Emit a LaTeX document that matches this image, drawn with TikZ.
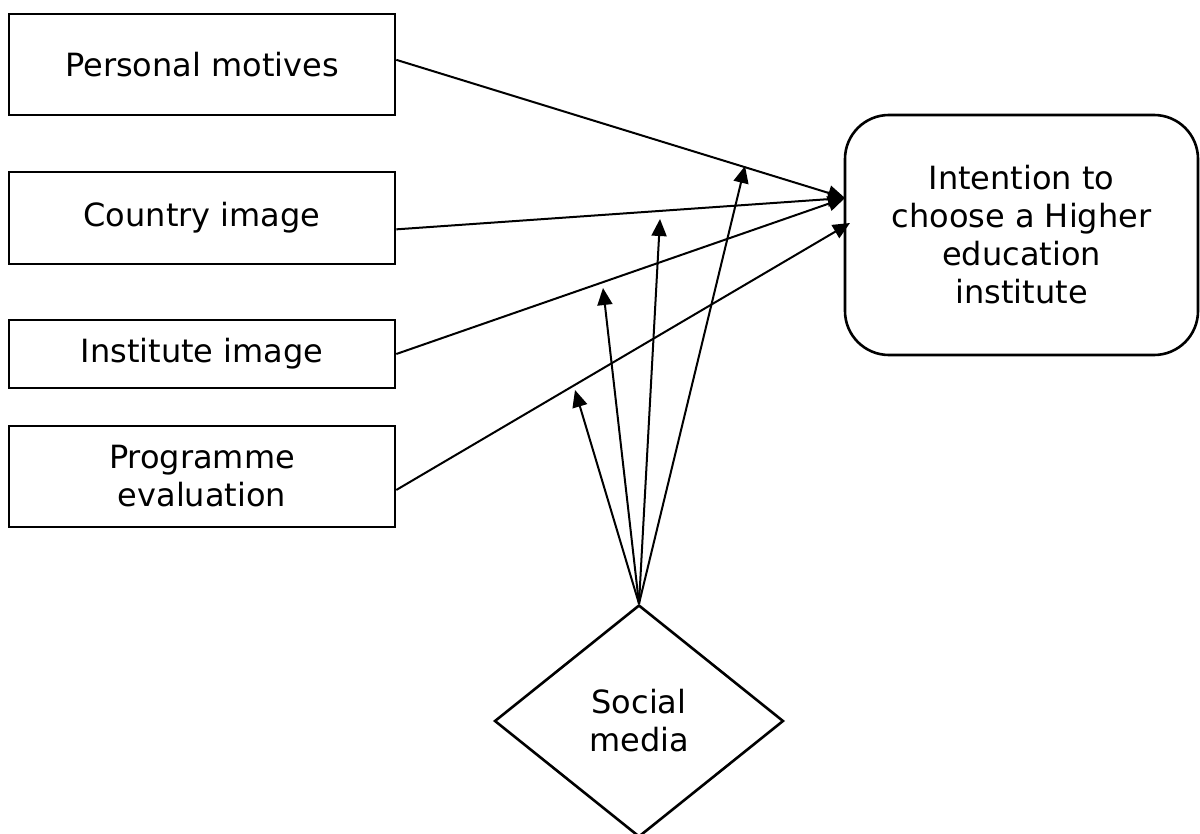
\documentclass[tikz,border=0pt]{standalone}
\usepackage{fontspec}
\setmainfont{DejaVu Sans}
\usetikzlibrary{shapes.geometric,arrows.meta,calc}
\begin{document}
\begin{tikzpicture}[x=0.5pt,y=-0.5pt,
  box/.style={draw,line width=1.3pt,minimum width=193pt,inner sep=0pt,align=center,font=\fontsize{16}{19}\selectfont},
  goal/.style={draw,line width=1.3pt,rounded corners=22pt,minimum width=176.5pt,minimum height=120pt,inner sep=0pt,align=center,font=\fontsize{16}{19}\selectfont},
  dia/.style={draw,diamond,line width=1.3pt,minimum width=144.5pt,minimum height=116pt,shape aspect=1.25,inner sep=0pt,align=center,font=\fontsize{16}{19}\selectfont},
  conn/.style={line width=1pt,-{Triangle[length=8.5pt,width=7.5pt]}}]
\useasboundingbox (0,0) rectangle (1200,834);
\node[box,minimum height=50.5pt] (pm) at (202,64.5) {Personal motives};
\node[box,minimum height=46pt] (ci) at (202,218) {Country image};
\node[box,minimum height=34pt] (ii) at (202,354) {Institute image};
\node[box,minimum height=50.5pt] (pe) at (202,476.5) {Programme\\evaluation};
\node[goal] (hi) at (1021.5,235) {Intention to\\choose a Higher\\education\\institute};
\node[dia] (sm) at (639,721) {Social\\media};
\coordinate (t1) at (845,198);
\coordinate (t2) at (850,223);
\draw[conn] ($(pm.north east)!0.455!(pm.south east)$) -- (t1);
\draw[conn] ($(ci.north east)!0.62!(ci.south east)$) -- (t1);
\draw[conn] (ii.east) -- (t1);
\draw[conn] ($(pe.north east)!0.63!(pe.south east)$) -- (t2);
\coordinate (a1) at (575,390);
\coordinate (a2) at (603,288);
\coordinate (a3) at (660,219);
\coordinate (a4) at (745,166);
\draw[conn] (sm.north) -- (a1);
\draw[conn] (sm.north) -- (a2);
\draw[conn] (sm.north) -- (a3);
\draw[conn] (sm.north) -- (a4);
\end{tikzpicture}
\end{document}
